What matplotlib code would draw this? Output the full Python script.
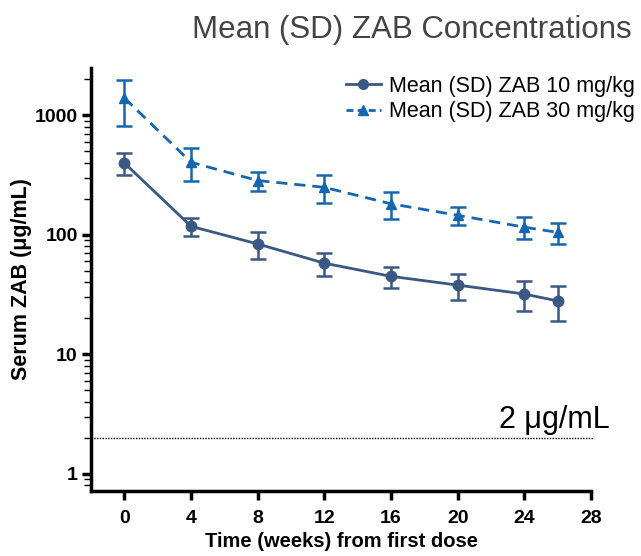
import matplotlib.pyplot as plt
import matplotlib.ticker as mticker
from matplotlib.lines import Line2D
import numpy as np

plt.rcParams['font.family'] = ['Liberation Sans', 'DejaVu Sans']

weeks = [0, 4, 8, 12, 16, 20, 24, 26]
mean_10 = [400, 118, 84, 58, 45, 38, 32, 28]
sd_10 = [80, 20, 21, 13, 9, 9.5, 9, 9]
mean_30 = [1400, 405, 285, 250, 182, 146, 116, 105]
sd_30 = [580, 125, 52, 65, 45, 24, 24, 21]
threshold = 2

c10 = '#3b5784'
c30 = '#1566ae'
dash = (0, (4, 2.5))

fig = plt.figure(figsize=(6.41, 5.56), dpi=100)
ax = fig.add_axes([0.142, 0.117, 0.78, 0.761])

ax.errorbar(weeks, mean_10, yerr=sd_10, color=c10, marker='o', ms=7.5,
            lw=2, capsize=6, capthick=1.8, elinewidth=1.8)
ax.errorbar(weeks, mean_30, yerr=sd_30, color=c30, marker='^', ms=7,
            lw=2, ls=dash, capsize=6, capthick=1.8, elinewidth=1.8)

ax.hlines(threshold, -2, 28.2, colors='black', linestyles=(0, (1, 1)),
          lw=1, clip_on=False)
ax.text(29.1, threshold * 1.2, '2 \u03bcg/mL', ha='right', va='baseline',
        fontsize=22, clip_on=False)

ax.set_yscale('log')
ax.set_ylim(0.72, 2500)
ax.set_xlim(-2, 28)
ax.set_xticks(range(0, 29, 4))
ax.yaxis.set_major_locator(mticker.FixedLocator([1, 10, 100, 1000]))
ax.yaxis.set_major_formatter(mticker.FixedFormatter(['1', '10', '100', '1000']))
ax.yaxis.set_minor_locator(mticker.LogLocator(base=10, subs=np.arange(2, 10)))
ax.yaxis.set_minor_formatter(mticker.NullFormatter())

for s in ['top', 'right']:
    ax.spines[s].set_visible(False)
for s in ['left', 'bottom']:
    ax.spines[s].set_linewidth(2.5)

ax.tick_params(axis='both', which='major', length=6.5, width=2.5,
               labelsize=14, pad=3)
ax.tick_params(axis='x', which='major', pad=7)
ax.tick_params(axis='y', which='minor', length=5, width=1)
for lab in ax.get_xticklabels() + ax.get_yticklabels():
    lab.set_fontweight('bold')

ax.set_xlabel('Time (weeks) from first dose', fontsize=14.5,
              fontweight='bold', labelpad=4)
ax.set_ylabel('Serum ZAB (\u03bcg/mL)', fontsize=15.5, fontweight='bold',
              labelpad=2)

fig.text(0.643, 0.946, 'Mean (SD) ZAB Concentrations', ha='center',
         va='center', fontsize=22.5, color='#444444')

handles = [
    Line2D([], [], color=c10, marker='o', ms=7, lw=2),
    Line2D([], [], color=c30, marker='^', ms=7, lw=2, ls=(0, (2.5, 1.5))),
]
labels = ['Mean (SD) ZAB 10 mg/kg', 'Mean (SD) ZAB 30 mg/kg']
fig.legend(handles, labels, loc='upper left', bbox_to_anchor=(0.54, 0.864),
           frameon=False, fontsize=15.5, handlelength=1.6, handletextpad=0.4,
           borderaxespad=0, borderpad=0, labelspacing=0.22)

fig.savefig('out.png', dpi=100)
